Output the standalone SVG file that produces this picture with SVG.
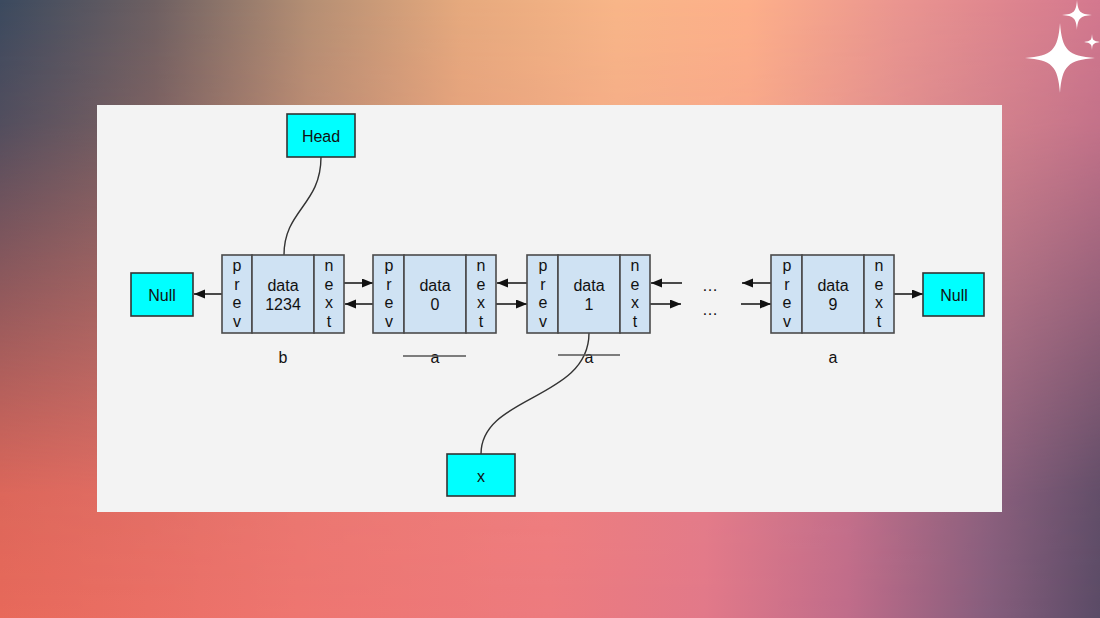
<svg xmlns="http://www.w3.org/2000/svg" width="1100" height="618" viewBox="0 0 1100 618">
<defs>
<linearGradient id="gTop" x1="0" y1="0" x2="1100" y2="0" gradientUnits="userSpaceOnUse">
<stop offset="0" stop-color="#3b4a5f"/>
<stop offset="0.14" stop-color="#6d6062"/>
<stop offset="0.28" stop-color="#b48f74"/>
<stop offset="0.42" stop-color="#e6aa7e"/>
<stop offset="0.56" stop-color="#f8b688"/>
<stop offset="0.68" stop-color="#fdb08a"/>
<stop offset="0.82" stop-color="#ea9590"/>
<stop offset="1" stop-color="#d4788f"/>
</linearGradient>
<linearGradient id="gBot" x1="0" y1="0" x2="1100" y2="0" gradientUnits="userSpaceOnUse">
<stop offset="0" stop-color="#e8695a"/>
<stop offset="0.27" stop-color="#ee7570"/>
<stop offset="0.5" stop-color="#ed7a7e"/>
<stop offset="0.64" stop-color="#e27889"/>
<stop offset="0.77" stop-color="#c06c8a"/>
<stop offset="0.9" stop-color="#855d7c"/>
<stop offset="1" stop-color="#5a4b66"/>
</linearGradient>
<linearGradient id="gMask" x1="0" y1="0" x2="0" y2="618" gradientUnits="userSpaceOnUse">
<stop offset="0" stop-color="#000"/>
<stop offset="0.2" stop-color="#222"/>
<stop offset="0.5" stop-color="#888"/>
<stop offset="0.8" stop-color="#eee"/>
<stop offset="1" stop-color="#fff"/>
</linearGradient>
<mask id="m"><rect width="1100" height="618" fill="url(#gMask)"/></mask>
<marker id="arr" markerUnits="userSpaceOnUse" markerWidth="12" markerHeight="10" refX="11" refY="4.5" orient="auto">
<path d="M0,0 L11,4.5 L0,9 Z" fill="#111"/>
</marker>
<style>
.t{font-family:"Liberation Sans",Arial,sans-serif;font-size:16px;fill:#111;text-anchor:middle}
.cell{fill:#cfe2f3;stroke:#4a4a4a;stroke-width:1.6}
.cy{fill:#00ffff;stroke:#333;stroke-width:1.6}
.c{stroke:#111;stroke-width:1.5;fill:none}
.cv{stroke:#333;stroke-width:1.4;fill:none}
.st{stroke:#555;stroke-width:1.5}
.sp{fill:#fff}
</style>
</defs>
<rect width="1100" height="618" fill="url(#gTop)"/>
<rect width="1100" height="618" fill="url(#gBot)" mask="url(#m)"/>
<g id="sparkles">
<path class="sp" d="M1060,23 C1062,50 1068,56 1095,58 C1068,60 1062,66 1060,93 C1058,66 1052,60 1025,58 C1052,56 1058,50 1060,23 Z"/>
<path class="sp" d="M1077,0 C1078,12 1080,14 1092,15 C1080,16 1078,18 1077,30 C1076,18 1074,16 1062,15 C1074,14 1076,12 1077,0 Z"/>
<path class="sp" d="M1092,34 C1092.5,40 1093,41 1100,42 C1093,43 1092.5,44 1092,50 C1091.5,44 1091,43 1084,42 C1091,41 1091.5,40 1092,34 Z"/>
</g>
<rect id="panel" x="97" y="105" width="905" height="407" fill="#f3f3f3"/>

<g id="connectors">
<path class="cv" d="M321,157 C321,205 284,210 284,255"/>
<path class="cv" d="M589,333 C589,400 481,395 481,454"/>
<line class="c" x1="222" y1="294" x2="194" y2="294" marker-end="url(#arr)"/>
<line class="c" x1="344" y1="283" x2="373" y2="283" marker-end="url(#arr)"/>
<line class="c" x1="373" y1="304" x2="345" y2="304" marker-end="url(#arr)"/>
<line class="c" x1="527" y1="283" x2="497" y2="283" marker-end="url(#arr)"/>
<line class="c" x1="496" y1="304" x2="527" y2="304" marker-end="url(#arr)"/>
<line class="c" x1="682" y1="283" x2="651" y2="283" marker-end="url(#arr)"/>
<line class="c" x1="650" y1="304" x2="681" y2="304" marker-end="url(#arr)"/>
<line class="c" x1="771" y1="283" x2="742" y2="283" marker-end="url(#arr)"/>
<line class="c" x1="741" y1="304" x2="771" y2="304" marker-end="url(#arr)"/>
<line class="c" x1="894" y1="294" x2="923" y2="294" marker-end="url(#arr)"/>
</g>

<g id="nullLeft">
<rect class="cy" x="131" y="273" width="62" height="43"/>
<text class="t" x="162" y="300.5">Null</text>
</g>
<g id="head">
<rect class="cy" x="287" y="114" width="68" height="43"/>
<text class="t" x="321" y="142">Head</text>
</g>
<g id="xnode">
<rect class="cy" x="447" y="454" width="68" height="42"/>
<text class="t" x="481" y="481.5">x</text>
</g>
<g id="nullRight">
<rect class="cy" x="923" y="273" width="61" height="43"/>
<text class="t" x="954" y="300.5">Null</text>
</g>

<g id="nodeB">
<rect class="cell" x="222" y="255" width="30" height="78"/>
<rect class="cell" x="252" y="255" width="62" height="78"/>
<rect class="cell" x="314" y="255" width="30" height="78"/>
<text class="t" x="237" y="271">p</text><text class="t" x="237" y="289.5">r</text><text class="t" x="237" y="308">e</text><text class="t" x="237" y="326.5">v</text>
<text class="t" x="283" y="291">data</text><text class="t" x="283" y="310">1234</text>
<text class="t" x="329" y="271">n</text><text class="t" x="329" y="289.5">e</text><text class="t" x="329" y="308">x</text><text class="t" x="329" y="326.5">t</text>
<text class="t" x="283" y="363">b</text>
</g>
<g id="node0">
<rect class="cell" x="373" y="255" width="31" height="78"/>
<rect class="cell" x="404" y="255" width="62" height="78"/>
<rect class="cell" x="466" y="255" width="30" height="78"/>
<text class="t" x="389" y="271">p</text><text class="t" x="389" y="289.5">r</text><text class="t" x="389" y="308">e</text><text class="t" x="389" y="326.5">v</text>
<text class="t" x="435" y="291">data</text><text class="t" x="435" y="310">0</text>
<text class="t" x="481" y="271">n</text><text class="t" x="481" y="289.5">e</text><text class="t" x="481" y="308">x</text><text class="t" x="481" y="326.5">t</text>
<text class="t" x="435" y="363">a</text>
<line class="st" x1="403" y1="356" x2="466" y2="356"/>
</g>
<g id="node1">
<rect class="cell" x="527" y="255" width="31" height="78"/>
<rect class="cell" x="558" y="255" width="62" height="78"/>
<rect class="cell" x="620" y="255" width="30" height="78"/>
<text class="t" x="543" y="271">p</text><text class="t" x="543" y="289.5">r</text><text class="t" x="543" y="308">e</text><text class="t" x="543" y="326.5">v</text>
<text class="t" x="589" y="291">data</text><text class="t" x="589" y="310">1</text>
<text class="t" x="635" y="271">n</text><text class="t" x="635" y="289.5">e</text><text class="t" x="635" y="308">x</text><text class="t" x="635" y="326.5">t</text>
<text class="t" x="589" y="363">a</text>
<line class="st" x1="558" y1="355" x2="620" y2="355"/>
</g>
<g id="ellipsis">
<text class="t" x="710" y="291">…</text>
<text class="t" x="710" y="315">…</text>
</g>
<g id="node9">
<rect class="cell" x="771" y="255" width="31" height="78"/>
<rect class="cell" x="802" y="255" width="62" height="78"/>
<rect class="cell" x="864" y="255" width="30" height="78"/>
<text class="t" x="787" y="271">p</text><text class="t" x="787" y="289.5">r</text><text class="t" x="787" y="308">e</text><text class="t" x="787" y="326.5">v</text>
<text class="t" x="833" y="291">data</text><text class="t" x="833" y="310">9</text>
<text class="t" x="879" y="271">n</text><text class="t" x="879" y="289.5">e</text><text class="t" x="879" y="308">x</text><text class="t" x="879" y="326.5">t</text>
<text class="t" x="833" y="363">a</text>
</g>
</svg>
